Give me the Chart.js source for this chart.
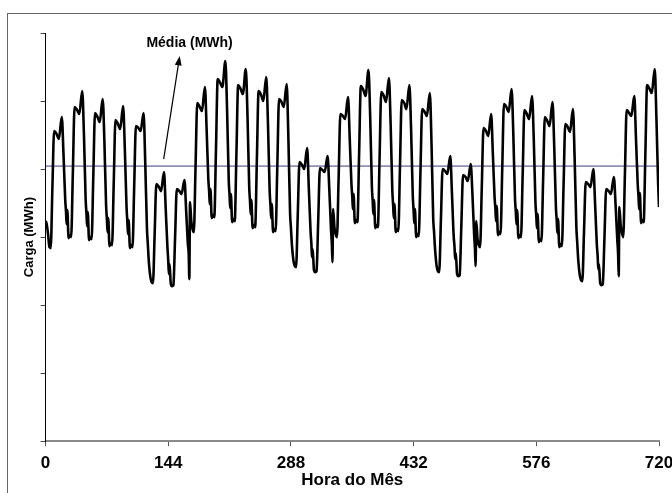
<!DOCTYPE html>
<html>
<head>
<meta charset="utf-8">
<script src="https://cdn.jsdelivr.net/npm/chart.js@4/dist/chart.umd.min.js"></script>
<style>
  html, body { margin: 0; padding: 0; background: #fff; }
  body { width: 672px; height: 493px; position: relative; overflow: hidden; }
  #frame { position: absolute; left: 7px; top: 13px; width: 700px; height: 520px; border: 1px solid #666; }
  #loadChart { position: absolute; left: 0; top: 0; }
</style>
</head>
<body>
<div id="frame"></div>
<canvas id="loadChart" width="672" height="493"></canvas>
<script>
// carga horaria do mes (30 dias)

const hoursOfDay = [0, 0.7, 1.5, 3, 4.5, 6, 8, 10, 13, 15.5, 19, 21, 23];

const dailyLoad = [
    [220, 219, 216, 206, 194, 193, 254, 310, 307, 302, 324, 287, 242],
    [229, 217, 231, 203, 206, 204, 269, 334, 331, 327, 350, 307, 242],
    [227, 215, 229, 201, 204, 202, 265, 328, 324, 319, 342, 300, 236],
    [221, 209, 223, 195, 198, 196, 259, 321, 317, 312, 335, 292, 234],
    [219, 207, 221, 193, 196, 194, 255, 315, 313, 310, 328, 277, 212],
    [197, 186, 176, 164, 159, 158, 207, 257, 254, 250, 269, 232, 194],
    [180, 167, 177, 157, 155, 156, 204, 252, 250, 247, 261, 230, 197],
    [187, 162, 239, 220, 212, 209, 274, 338, 334, 330, 354, 312, 262],
    [249, 237, 252, 223, 226, 224, 292, 362, 358, 354, 380, 332, 260],
    [245, 233, 247, 219, 222, 220, 288, 356, 352, 347, 372, 325, 254],
    [239, 227, 241, 213, 216, 214, 282, 350, 346, 340, 364, 318, 250],
    [235, 223, 237, 209, 212, 210, 276, 342, 339, 334, 357, 302, 227],
    [213, 202, 192, 180, 175, 174, 227, 279, 276, 272, 293, 252, 210],
    [197, 184, 192, 171, 169, 170, 221, 273, 271, 269, 285, 252, 212],
    [197, 179, 232, 214, 207, 204, 265, 327, 325, 322, 344, 302, 257],
    [244, 232, 247, 218, 221, 219, 287, 355, 351, 345, 371, 324, 254],
    [239, 227, 241, 213, 216, 214, 282, 349, 345, 339, 363, 317, 250],
    [235, 223, 237, 209, 212, 210, 276, 341, 338, 332, 356, 312, 245],
    [230, 218, 232, 204, 207, 205, 269, 332, 329, 325, 348, 297, 222],
    [209, 198, 188, 175, 170, 169, 221, 272, 270, 267, 285, 247, 205],
    [194, 182, 188, 167, 165, 166, 216, 266, 264, 260, 277, 247, 207],
    [192, 175, 220, 202, 196, 194, 254, 313, 310, 305, 327, 287, 244],
    [232, 220, 235, 206, 209, 207, 272, 337, 334, 329, 352, 307, 242],
    [229, 217, 231, 203, 206, 204, 267, 331, 327, 322, 345, 302, 238],
    [225, 213, 227, 199, 202, 200, 262, 324, 320, 315, 339, 295, 234],
    [220, 208, 222, 194, 197, 195, 256, 317, 314, 309, 332, 282, 214],
    [199, 188, 178, 166, 161, 160, 210, 259, 257, 254, 272, 237, 197],
    [185, 172, 177, 158, 156, 157, 204, 252, 250, 247, 264, 237, 202],
    [187, 165, 234, 216, 208, 204, 267, 331, 328, 325, 345, 302, 257],
    [244, 232, 248, 218, 221, 219, 287, 356, 352, 348, 372, 322, 257],
];

const lastHour = 720;
const lastLoad = 234;

const mediaLoad = 275;

const xTicks = [0, 144, 288, 432, 576, 720];
const yTicks = [0, 68, 136, 204, 272, 340, 408];

// seta "Média (MWh)": ponta e cauda em (hora, carga)
const arrowTail = [138.6, 282];
const arrowTip = [157.4, 385];
const mediaLabel = 'Média (MWh)';
const mediaLabelAt = [169, 398];

const points = [];
dailyLoad.forEach((day, d) => {
    day.forEach((v, i) => {
        points.push({ x: d * 24 + hoursOfDay[i], y: v });
    });
});
points.push({ x: lastHour, y: lastLoad });

const sans = "'Liberation Sans', Arial, sans-serif";

const mediaArrow = {
    id: 'mediaArrow',
    afterDatasetsDraw(chart) {
        const ctx = chart.ctx;
        const xs = chart.scales.x;
        const ys = chart.scales.y;
        const x1 = xs.getPixelForValue(arrowTail[0]);
        const y1 = ys.getPixelForValue(arrowTail[1]);
        const x2 = xs.getPixelForValue(arrowTip[0]);
        const y2 = ys.getPixelForValue(arrowTip[1]);
        const ang = Math.atan2(y2 - y1, x2 - x1);
        const len = 10;
        ctx.save();
        ctx.strokeStyle = '#000';
        ctx.fillStyle = '#000';
        ctx.lineWidth = 1.2;
        ctx.beginPath();
        ctx.moveTo(x1, y1);
        ctx.lineTo(x2 - Math.cos(ang) * len * 0.8, y2 - Math.sin(ang) * len * 0.8);
        ctx.stroke();
        ctx.beginPath();
        ctx.moveTo(x2, y2);
        ctx.lineTo(x2 - len * Math.cos(ang - 0.35), y2 - len * Math.sin(ang - 0.35));
        ctx.lineTo(x2 - len * Math.cos(ang + 0.35), y2 - len * Math.sin(ang + 0.35));
        ctx.closePath();
        ctx.fill();
        ctx.font = 'bold 14px ' + sans;
        ctx.textAlign = 'center';
        ctx.textBaseline = 'middle';
        ctx.fillText(mediaLabel, xs.getPixelForValue(mediaLabelAt[0]), ys.getPixelForValue(mediaLabelAt[1]));
        ctx.restore();
    }
};

const loadChart = document.querySelector('#loadChart');

new Chart(loadChart, {
    type: 'line',
    data: {
        datasets: [
            {
                label: 'Média (MWh)',
                data: [{ x: 0, y: mediaLoad }, { x: lastHour, y: mediaLoad }],
                borderColor: '#3c3c80',
                borderWidth: 1,
                pointRadius: 0,
                order: 2,
            },
            {
                label: 'Carga (MWh)',
                data: points,
                borderColor: '#000',
                borderWidth: 2.6,
                pointRadius: 0,
                cubicInterpolationMode: 'monotone',
                order: 1,
            }
        ]
    },
    options: {
        responsive: false,
        animation: false,
        devicePixelRatio: 1,
        layout: { padding: { left: 14, top: 33, right: 0, bottom: 3 } },
        plugins: { legend: { display: false }, tooltip: { enabled: false } },
        scales: {
            x: {
                type: 'linear',
                min: 0,
                max: 720,
                afterBuildTicks: (s) => { s.ticks = xTicks.map(v => ({ value: v })); },
                afterFit: (s) => { s.paddingRight = 13; },
                grid: { display: true, drawOnChartArea: false, drawTicks: true, tickLength: 5, color: '#555' },
                border: { display: true, color: '#8a8a8a', width: 2 },
                ticks: { color: '#000', padding: 7, maxRotation: 0, font: { family: sans, size: 17, weight: 'bold' } },
                title: {
                    display: true,
                    text: 'Hora do Mês',
                    color: '#000',
                    padding: { top: -10, bottom: -1 },
                    font: { family: sans, size: 17, weight: 'bold' }
                }
            },
            y: {
                min: 0,
                max: 408,
                afterBuildTicks: (s) => { s.ticks = yTicks.map(v => ({ value: v })); },
                grid: { display: true, drawOnChartArea: false, drawTicks: true, tickLength: 5, color: '#444' },
                border: { display: true, color: '#000', width: 1 },
                ticks: { display: false },
                title: {
                    display: true,
                    text: 'Carga (MWh)',
                    color: '#000',
                    padding: { top: 8, bottom: 3 },
                    font: { family: sans, size: 13, weight: 'bold' }
                }
            }
        }
    },
    plugins: [mediaArrow]
});
</script>
</body>
</html>
